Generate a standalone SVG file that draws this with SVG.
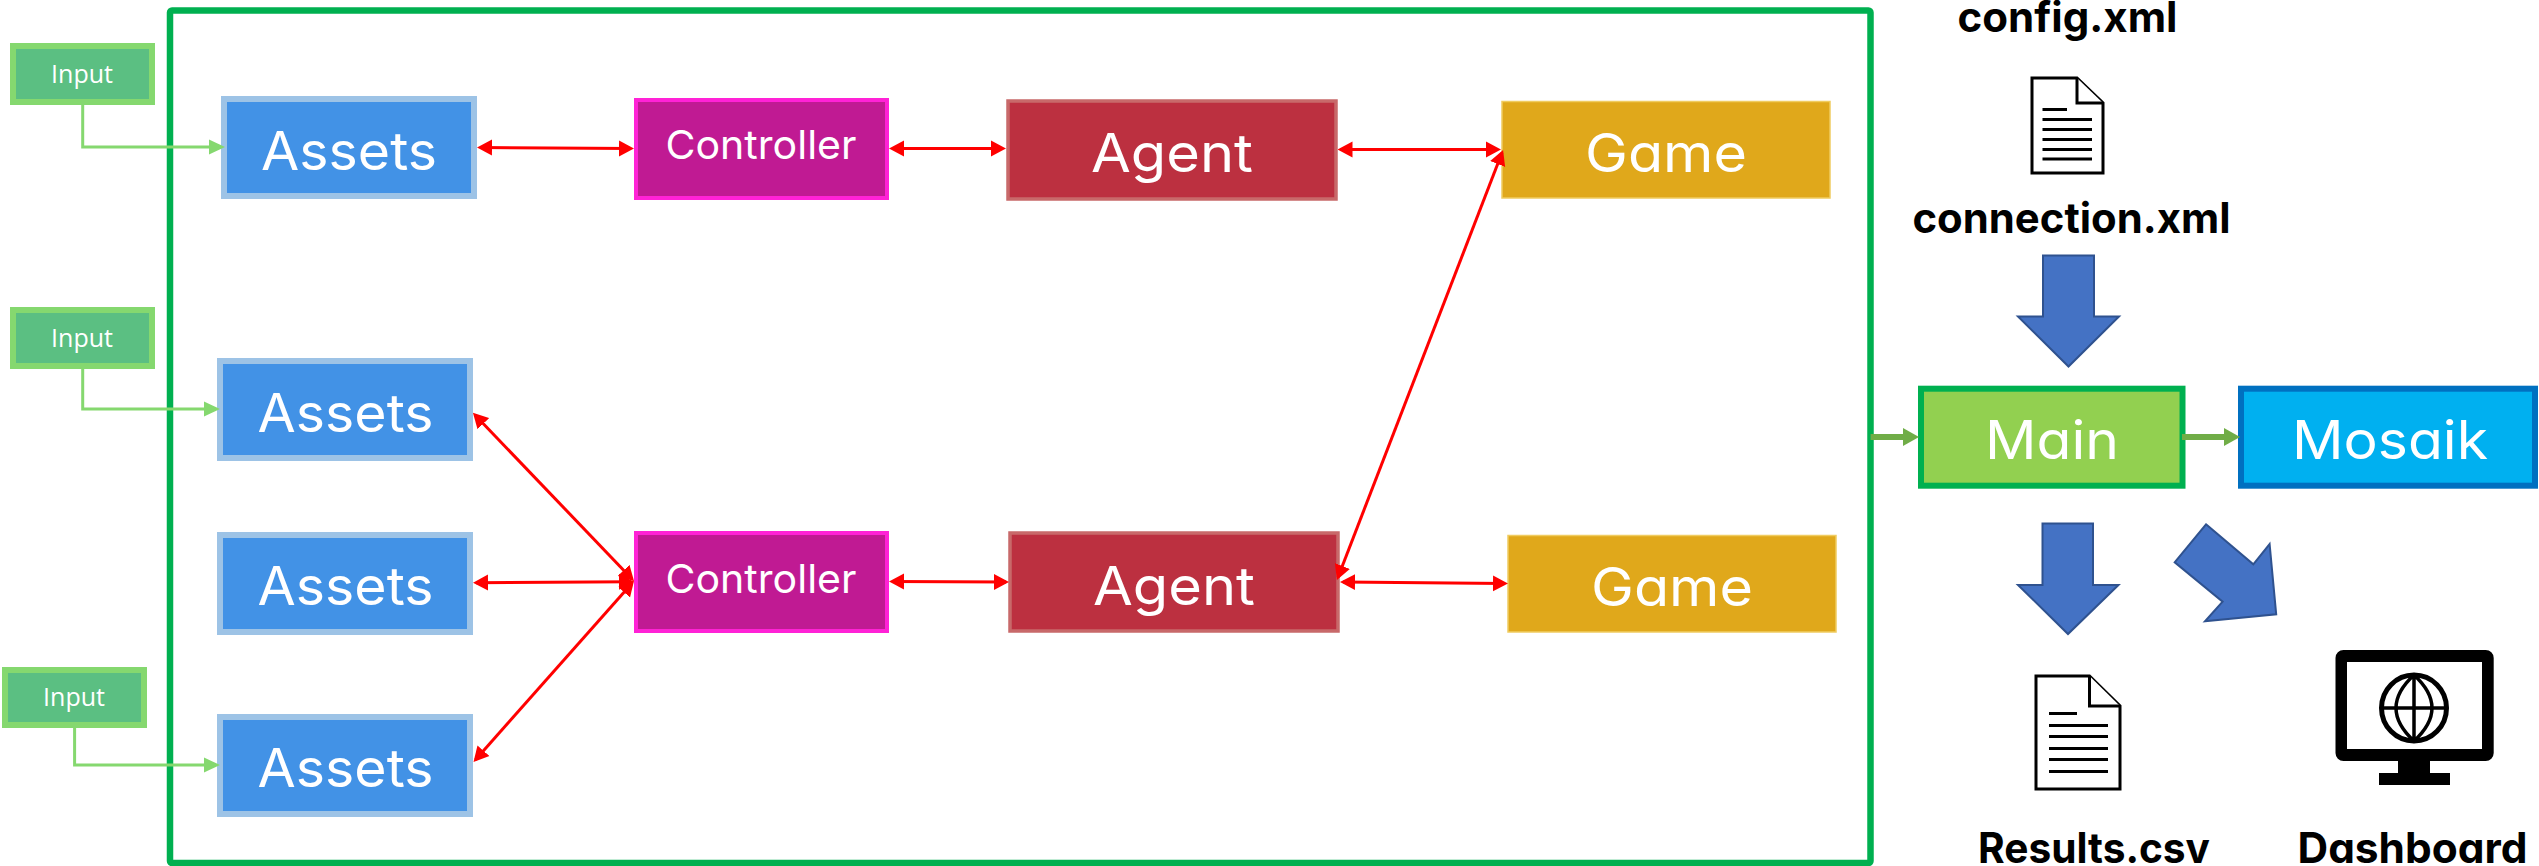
<svg xmlns="http://www.w3.org/2000/svg" width="2539" height="866" viewBox="0 0 2539 866">
<style>
text{font-family:"Inter","Noto Sans","Liberation Sans",sans-serif;font-feature-settings:"cv11";text-anchor:middle;fill:#fff}
.big{font-size:53px;font-weight:400}
.ctl{font-size:40px;font-weight:400}
.inp{font-family:"Open Sans","Noto Sans",sans-serif;font-size:25px}
.lbl{font-size:42px;font-weight:700;fill:#000}
.input{fill:#5BBF82;stroke:#85D86F;stroke-width:6}
.assets{fill:#4292E6;stroke:#9DC3E6;stroke-width:6}
.ctrl{fill:#C01A93;stroke:#FF22D6;stroke-width:4}
.agent{fill:#BC3040;stroke:#C8696A;stroke-width:3.5}
.game{fill:#E0A81B;stroke:#F0CC60;stroke-width:1.5}
.blk{fill:#4472C4;stroke:#2F528F;stroke-width:2}
.doc{fill:#fff;stroke:#000;stroke-width:3}
.ln{stroke:#000;stroke-width:3;fill:none}
.red{stroke:#F00;stroke-width:3;fill:none;marker-start:url(#rh);marker-end:url(#rh)}
.gin{stroke:#85D86F;stroke-width:3;fill:none;marker-end:url(#gh)}
.gout{stroke:#70AD47;stroke-width:6;fill:none;marker-end:url(#oh)}
</style>
<defs>
<marker id="rh" markerUnits="userSpaceOnUse" markerWidth="15" markerHeight="17" refX="12" refY="8.500" orient="auto-start-reverse"><path d="M0 .5L15 8.500L0 16.500Z" fill="#F00"/></marker>
<marker id="gh" markerUnits="userSpaceOnUse" markerWidth="16" markerHeight="16" refX="12" refY="8" orient="auto"><path d="M0 .5L16 8L0 15.500Z" fill="#85D86F"/></marker>
<marker id="oh" markerUnits="userSpaceOnUse" markerWidth="16" markerHeight="18" refX="8" refY="9" orient="auto"><path d="M0 0L16 9L0 18Z" fill="#70AD47"/></marker>
</defs>
<g id="frame"><rect x="170" y="10.500" width="1700.500" height="852.500" rx="2" fill="none" stroke="#00B050" stroke-width="6.500"/></g>
<g id="input1"><rect class="input" x="13" y="46" width="139" height="56"/><text class="inp" x="82" y="83">Input</text></g>
<g id="input2"><rect class="input" x="13" y="310" width="139" height="56"/><text class="inp" x="82" y="347">Input</text></g>
<g id="input3"><rect class="input" x="5" y="670" width="139" height="55"/><text class="inp" x="74" y="706">Input</text></g>
<g id="assets1"><rect class="assets" x="224" y="99" width="250" height="97"/><text class="big" x="349" y="170" textLength="176" lengthAdjust="spacingAndGlyphs">Assets</text></g>
<g id="assets2"><rect class="assets" x="220" y="361" width="250" height="97"/><text class="big" x="345.500" y="432" textLength="176" lengthAdjust="spacingAndGlyphs">Assets</text></g>
<g id="assets3"><rect class="assets" x="220" y="535" width="250" height="97"/><text class="big" x="345.500" y="605" textLength="176" lengthAdjust="spacingAndGlyphs">Assets</text></g>
<g id="assets4"><rect class="assets" x="220" y="717" width="250" height="97"/><text class="big" x="345.500" y="787" textLength="176" lengthAdjust="spacingAndGlyphs">Assets</text></g>
<g id="controller1"><rect class="ctrl" x="636" y="100" width="251" height="98"/><text class="ctl" x="761" y="159" textLength="191" lengthAdjust="spacingAndGlyphs">Controller</text></g>
<g id="controller2"><rect class="ctrl" x="636" y="533" width="251" height="98"/><text class="ctl" x="761" y="592.500" textLength="191" lengthAdjust="spacingAndGlyphs">Controller</text></g>
<g id="agent1"><rect class="agent" x="1008" y="101" width="328" height="98"/><text class="big" x="1172" y="172" textLength="162" lengthAdjust="spacingAndGlyphs">Agent</text></g>
<g id="agent2"><rect class="agent" x="1010" y="533" width="328" height="98"/><text class="big" x="1174" y="605" textLength="162" lengthAdjust="spacingAndGlyphs">Agent</text></g>
<g id="game1"><rect class="game" x="1502" y="101.500" width="328" height="96.500"/><text class="big" x="1666" y="172" textLength="162" lengthAdjust="spacingAndGlyphs">Game</text></g>
<g id="game2"><rect class="game" x="1508" y="535.500" width="328" height="96.500"/><text class="big" x="1672" y="605.500" textLength="162" lengthAdjust="spacingAndGlyphs">Game</text></g>
<g id="main"><rect x="1921" y="388.700" width="261.500" height="97" fill="#92D050" stroke="#00B050" stroke-width="6"/><text class="big" x="2052" y="459" textLength="134" lengthAdjust="spacingAndGlyphs">Main</text></g>
<g id="mosaik"><rect x="2241" y="388.700" width="294" height="97" fill="#00B0F0" stroke="#0070C0" stroke-width="6"/><text class="big" x="2390" y="459" textLength="196" lengthAdjust="spacingAndGlyphs">Mosaik</text></g>
<g id="config"><text class="lbl" x="2067.500" y="32" textLength="220" lengthAdjust="spacingAndGlyphs">config.xml</text></g>
<g id="doc1"><path class="doc" d="M2032 78H2077L2103 103V173H2032Z"/><path class="doc" d="M2077 78V103H2103"/><path class="ln" d="M2042.500 109.500H2067M2042.500 119.500H2092M2042.500 129.500H2092M2042.500 139.500H2092M2042.500 149.500H2092M2042.500 159H2092"/></g>
<g id="connection"><text class="lbl" x="2071.500" y="233" textLength="318" lengthAdjust="spacingAndGlyphs">connection.xml</text></g>
<g id="arrow1"><path class="blk" d="M2043 255.500H2094V316.500H2119L2068.500 366.500L2018 316.500H2043Z"/></g>
<g id="arrow2"><path class="blk" d="M2042.500 523.500H2093V585H2118.500L2068 634L2018 585H2042.500Z"/></g>
<g id="arrow3"><path class="blk" d="M2206 524.300L2253.300 564.300L2269.600 544L2276.200 614.300L2205 621.300L2222.600 601.700L2174.700 562.300Z"/></g>
<g id="doc2"><path class="doc" d="M2036 676H2089.500L2120 706V789H2036Z"/><path class="doc" d="M2089.500 676V706H2120"/><path class="ln" d="M2049 713.500H2077M2049 725.500H2108M2049 736.500H2108M2049 748.500H2108M2049 759.500H2108M2049 771.500H2108"/></g>
<g id="monitor"><path fill-rule="evenodd" d="M2343.500 650H2485.700A8 8 0 0 1 2493.700 658V753A8 8 0 0 1 2485.700 761H2430V773H2450V785H2379V773H2398V761H2343.500A8 8 0 0 1 2335.500 753V658A8 8 0 0 1 2343.500 650ZM2347 662V749H2482V662Z" fill="#000"/><ellipse cx="2414" cy="708" rx="32.500" ry="33" fill="none" stroke="#000" stroke-width="5"/><path d="M2414 675Q2378 708 2414 741Q2450 708 2414 675ZM2414 675V741M2381 708H2447" fill="none" stroke="#000" stroke-width="3.500"/></g>
<g id="results"><text class="lbl" x="2094" y="863" textLength="232" lengthAdjust="spacingAndGlyphs">Results.csv</text></g>
<g id="dashboard"><text class="lbl" x="2412.500" y="863" textLength="230" lengthAdjust="spacingAndGlyphs">Dashboard</text></g>
<g id="connectors">
<path class="gin" d="M82.700 105V147H221"/>
<path class="gin" d="M82.700 369V409H216"/>
<path class="gin" d="M74.600 728V765H216"/>
<path class="red" d="M480 147.500L631 148.500"/>
<path class="red" d="M892 148.500H1003"/>
<path class="red" d="M1340.500 149.500H1498"/>
<path class="red" d="M892 581.500L1006 582"/>
<path class="red" d="M1343 582L1505 583.500"/>
<path class="red" d="M1338 577.200L1502 152.800"/>
<path class="red" d="M475 415L632 579"/>
<path class="red" d="M476 582.700L631 581.700"/>
<path class="red" d="M475.500 759.700L632 583.300"/>
<path class="gout" d="M1870.600 437H1911"/>
<path class="gout" d="M2182 437H2232"/>
</g>
</svg>
